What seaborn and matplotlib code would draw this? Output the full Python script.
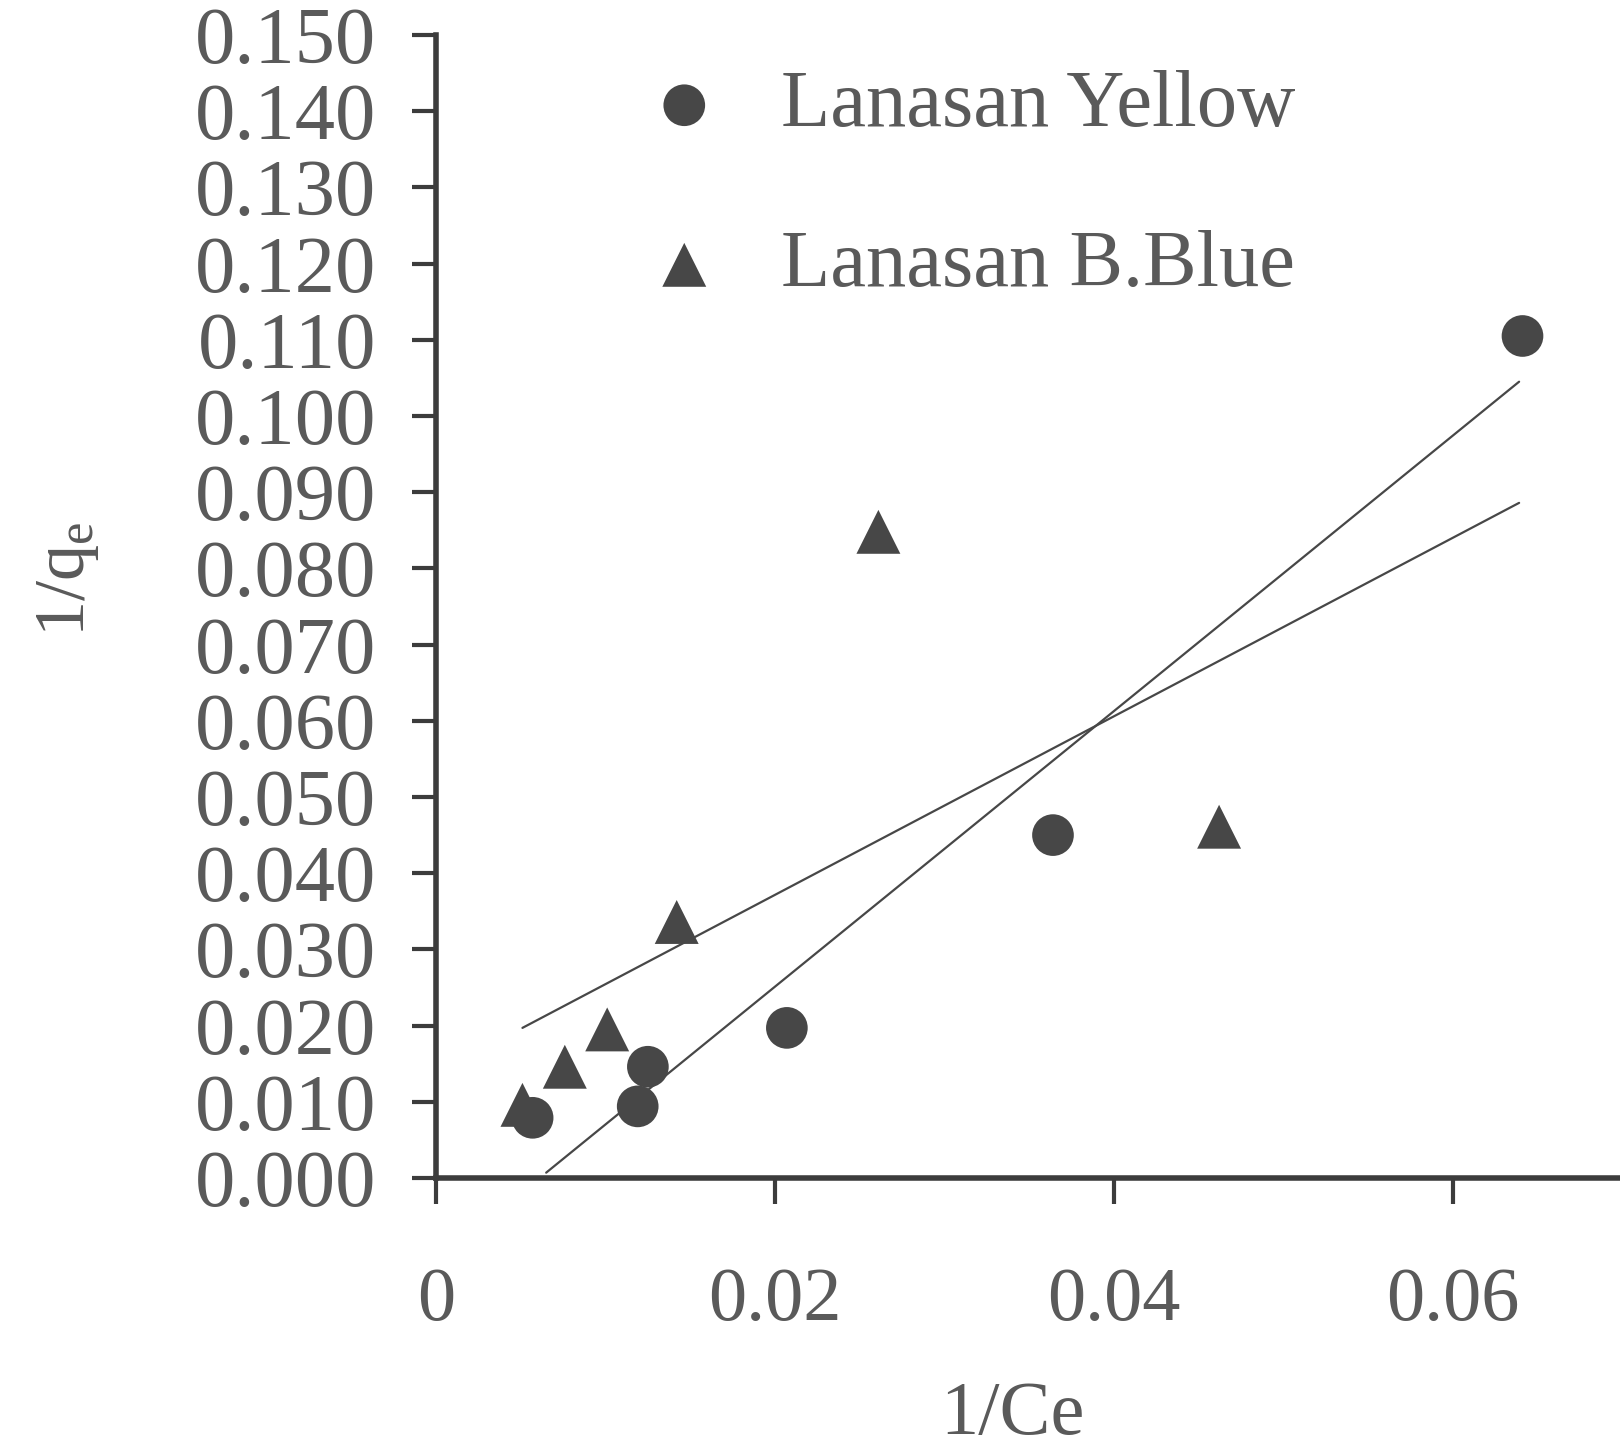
import matplotlib
matplotlib.use("Agg")
import matplotlib.pyplot as plt
import seaborn as sns
import pandas as pd
import numpy as np

# ---- data ----
yellow_x = [0.0057, 0.0119, 0.0125, 0.0207, 0.0364, 0.0641]
yellow_y = [0.0079, 0.0094, 0.0146, 0.0197, 0.0450, 0.1105]
blue_x = [0.0051, 0.0076, 0.0101, 0.0142, 0.0261, 0.0462]
blue_y = [0.0096, 0.0146, 0.0195, 0.0336, 0.0848, 0.0461]
yellow_fit_x = [0.0065, 0.0639]
yellow_fit_y = [0.0007, 0.1045]
blue_fit_x = [0.0051, 0.0639]
blue_fit_y = [0.0197, 0.0886]
series_names = ["Lanasan Yellow", "Lanasan B.Blue"]
x_ticks = [0, 0.02, 0.04, 0.06]
x_tick_labels = ["0", "0.02", "0.04", "0.06"]
y_ticks = [i / 100 for i in range(16)]
y_tick_labels = ["%.3f" % v for v in y_ticks]

sns.set_theme(style="white")
plt.rcParams["font.family"] = ["Liberation Serif", "DejaVu Serif"]
plt.rcParams["mathtext.fontset"] = "custom"
plt.rcParams["mathtext.rm"] = "Liberation Serif"
plt.rcParams["mathtext.it"] = "Liberation Serif:italic"

TXT = "#5a5a5a"
INK = "#474747"
AX = "#3c3c3c"

fig = plt.figure(figsize=(16.2, 14.56), dpi=100)
ax = fig.add_axes([436 / 1620, 1 - 1178 / 1456, 1 - 436 / 1620, (1178 - 35) / 1456])

df_y = pd.DataFrame({"x": yellow_x, "y": yellow_y})
df_b = pd.DataFrame({"x": blue_x, "y": blue_y})

sns.lineplot(x=yellow_fit_x, y=yellow_fit_y, ax=ax, color=INK, linewidth=1.6, legend=False)
sns.lineplot(x=blue_fit_x, y=blue_fit_y, ax=ax, color=INK, linewidth=1.6, legend=False)
sns.scatterplot(data=df_y, x="x", y="y", ax=ax, marker="o", s=900, color=INK,
                edgecolor="none", label=series_names[0], clip_on=False, zorder=3)
sns.scatterplot(data=df_b, x="x", y="y", ax=ax, marker="^", s=1000, color=INK,
                edgecolor="none", label=series_names[1], clip_on=False, zorder=3)

ax.set_xlim(0, (1620 - 436) / 16950)
ax.set_ylim(0, 0.150)
ax.set_xticks(x_ticks)
ax.set_xticklabels(x_tick_labels)
ax.set_yticks(y_ticks)
ax.set_yticklabels(y_tick_labels)

for side in ["top", "right"]:
    ax.spines[side].set_visible(False)
for side in ["left", "bottom"]:
    ax.spines[side].set_linewidth(4)
    ax.spines[side].set_color(AX)

ax.tick_params(axis="y", direction="out", length=17, width=3, color=AX,
               labelsize=58, labelcolor=TXT, pad=26, left=True)
ax.tick_params(axis="x", direction="out", length=19, width=3, color=AX,
               labelsize=55, labelcolor=TXT, pad=45, bottom=True)

ax.set_xlabel("1/Ce", fontsize=55, color=TXT)
ax.set_ylabel(r"1/q$_\mathrm{e}$", fontsize=52, color=TXT)
ax.xaxis.set_label_coords(0.4865, -0.178)
ax.yaxis.set_label_coords(-0.283, 0.524)

leg = ax.legend(loc="upper left", bbox_to_anchor=(644 / 1620, 1 - 70 / 1456),
                bbox_transform=fig.transFigure, frameon=False, fontsize=58,
                handlelength=1.0, handletextpad=0.7, labelspacing=1.07,
                borderpad=0, borderaxespad=0)
for t in leg.get_texts():
    t.set_color(TXT)

fig.savefig("out.png", dpi=100)
